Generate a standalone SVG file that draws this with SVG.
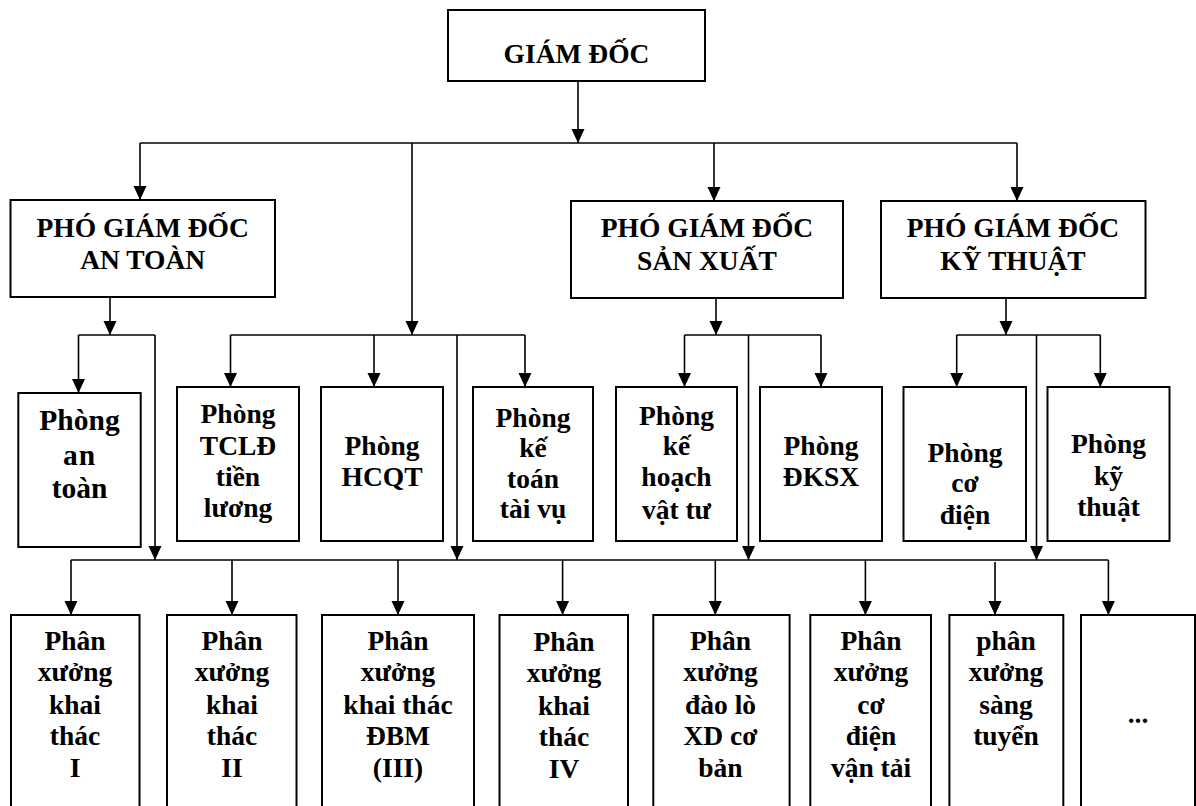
<svg xmlns="http://www.w3.org/2000/svg" width="1196" height="806" viewBox="0 0 1196 806">
<style>
.box{fill:#fff;stroke:#000;stroke-width:2}
.t{font-family:"Liberation Serif","Times New Roman",serif;font-weight:bold;font-size:27.5px;fill:#000;text-anchor:middle}
.big{font-size:29.5px}
.c{fill:none;stroke:#000;stroke-width:1.6}
.a{marker-end:url(#ah)}
</style>
<defs>
<marker id="ah" markerUnits="userSpaceOnUse" markerWidth="14" markerHeight="14" viewBox="0 0 14 13" refX="14" refY="6.5" orient="auto">
<path d="M0,0 L14,6.5 L0,13 Z" fill="#000"/>
</marker>
</defs>
<rect width="1196" height="806" fill="#fff"/>

<g id="connectors">
<line class="c a" x1="578" y1="82" x2="578" y2="143"/>
<polyline class="c" points="140,143 1017,143"/>
<line class="c a" x1="140" y1="143" x2="140" y2="200"/>
<line class="c a" x1="714" y1="143" x2="714" y2="201"/>
<line class="c a" x1="1017" y1="143" x2="1017" y2="201"/>
<line class="c a" x1="412" y1="143" x2="412" y2="335"/>

<line class="c a" x1="110" y1="297" x2="110" y2="335"/>
<polyline class="c" points="78.5,335 155,335"/>
<line class="c a" x1="78.5" y1="335" x2="78.5" y2="393"/>
<line class="c a" x1="155" y1="335" x2="155" y2="560"/>

<polyline class="c" points="230.5,335 525,335"/>
<line class="c a" x1="230.5" y1="335" x2="230.5" y2="387"/>
<line class="c a" x1="374" y1="335" x2="374" y2="387"/>
<line class="c a" x1="525" y1="335" x2="525" y2="387"/>
<line class="c a" x1="457" y1="335" x2="457" y2="560"/>

<line class="c a" x1="716" y1="298" x2="716" y2="335"/>
<polyline class="c" points="684.5,335 821,335"/>
<line class="c a" x1="684.5" y1="335" x2="684.5" y2="387"/>
<line class="c a" x1="821" y1="335" x2="821" y2="387"/>
<line class="c a" x1="748.5" y1="335" x2="748.5" y2="560"/>

<line class="c a" x1="1006" y1="298" x2="1006" y2="335"/>
<polyline class="c" points="956.7,335 1100.3,335"/>
<line class="c a" x1="956.7" y1="335" x2="956.7" y2="387"/>
<line class="c a" x1="1100.3" y1="335" x2="1100.3" y2="387"/>
<line class="c a" x1="1036.5" y1="335" x2="1036.5" y2="560"/>

<polyline class="c" points="71,560 1108.4,560"/>
<line class="c a" x1="71" y1="560" x2="71" y2="615"/>
<line class="c a" x1="232" y1="560" x2="232" y2="615"/>
<line class="c a" x1="398" y1="560" x2="398" y2="615"/>
<line class="c a" x1="562.6" y1="560" x2="562.6" y2="615"/>
<line class="c a" x1="715.3" y1="560" x2="715.3" y2="615"/>
<line class="c a" x1="865.4" y1="560" x2="865.4" y2="615"/>
<line class="c a" x1="995" y1="562" x2="995" y2="615"/>
<line class="c a" x1="1108.4" y1="560" x2="1108.4" y2="615"/>
</g>

<g id="giam-doc">
<rect class="box" x="448" y="10" width="257" height="71"/>
<text class="t" x="576.5" y="62.5">GIÁM ĐỐC</text>
</g>

<g id="pgd-an-toan">
<rect class="box" x="10.5" y="200" width="264.5" height="97"/>
<text class="t" x="142.7" y="237">PHÓ GIÁM ĐỐC</text>
<text class="t" x="142.7" y="269">AN TOÀN</text>
</g>
<g id="pgd-san-xuat">
<rect class="box" x="571" y="201" width="272" height="97"/>
<text class="t" x="707" y="237">PHÓ GIÁM ĐỐC</text>
<text class="t" x="707" y="269.5">SẢN XUẤT</text>
</g>
<g id="pgd-ky-thuat">
<rect class="box" x="881" y="201" width="264.5" height="97"/>
<text class="t" x="1013" y="237">PHÓ GIÁM ĐỐC</text>
<text class="t" x="1013" y="269.5">KỸ THUẬT</text>
</g>

<g id="phong-an-toan">
<rect class="box" x="18.3" y="393" width="122.4" height="154"/>
<text class="t big" x="79.5" y="430">Phòng</text>
<text class="t big" x="79.5" y="464.5" letter-spacing="1">an</text>
<text class="t big" x="79.5" y="498">toàn</text>
</g>
<g id="phong-tcld">
<rect class="box" x="177" y="387" width="122" height="154"/>
<text class="t" x="238" y="423">Phòng</text>
<text class="t" x="238" y="454.5">TCLĐ</text>
<text class="t" x="238" y="486">tiền</text>
<text class="t" x="238" y="517">lương</text>
</g>
<g id="phong-hcqt">
<rect class="box" x="321" y="387" width="122" height="154"/>
<text class="t" x="382" y="455">Phòng</text>
<text class="t" x="382" y="486">HCQT</text>
</g>
<g id="phong-ke-toan">
<rect class="box" x="473" y="387" width="120" height="154"/>
<text class="t" x="533" y="426.5">Phòng</text>
<text class="t" x="533" y="457">kế</text>
<text class="t" x="533" y="487.5">toán</text>
<text class="t" x="533" y="518">tài vụ</text>
</g>
<g id="phong-ke-hoach">
<rect class="box" x="616" y="387" width="121" height="154"/>
<text class="t" x="676.5" y="424.5">Phòng</text>
<text class="t" x="676.5" y="455">kế</text>
<text class="t" x="676.5" y="486">hoạch</text>
<text class="t" x="676.5" y="518.5">vật tư</text>
</g>
<g id="phong-dksx">
<rect class="box" x="760" y="387" width="122" height="154"/>
<text class="t" x="821" y="455">Phòng</text>
<text class="t" x="821" y="486">ĐKSX</text>
</g>
<g id="phong-co-dien">
<rect class="box" x="903.5" y="387" width="122.5" height="154"/>
<text class="t" x="965" y="461.5">Phòng</text>
<text class="t" x="965" y="492">cơ</text>
<text class="t" x="965" y="523.5">điện</text>
</g>
<g id="phong-ky-thuat">
<rect class="box" x="1047.5" y="387" width="122" height="154"/>
<text class="t" x="1108.5" y="453">Phòng</text>
<text class="t" x="1108.5" y="484.5">kỹ</text>
<text class="t" x="1108.5" y="516">thuật</text>
</g>

<g id="px-khai-thac-1">
<rect class="box" x="11" y="615" width="128.5" height="210"/>
<text class="t" x="75" y="650">Phân</text>
<text class="t" x="75" y="681">xưởng</text>
<text class="t" x="75" y="713.5">khai</text>
<text class="t" x="75" y="745">thác</text>
<text class="t" x="75" y="777">I</text>
</g>
<g id="px-khai-thac-2">
<rect class="box" x="167" y="615" width="129.5" height="210"/>
<text class="t" x="232" y="650">Phân</text>
<text class="t" x="232" y="681">xưởng</text>
<text class="t" x="232" y="713.5">khai</text>
<text class="t" x="232" y="745">thác</text>
<text class="t" x="232" y="777">II</text>
</g>
<g id="px-khai-thac-dbm">
<rect class="box" x="322" y="615" width="152" height="210"/>
<text class="t" x="398" y="650">Phân</text>
<text class="t" x="398" y="681">xưởng</text>
<text class="t" x="398" y="713.5">khai thác</text>
<text class="t" x="398" y="745">ĐBM</text>
<text class="t" x="398" y="777">(III)</text>
</g>
<g id="px-khai-thac-4">
<rect class="box" x="499.5" y="615" width="128.5" height="210"/>
<text class="t" x="564" y="651">Phân</text>
<text class="t" x="564" y="682">xưởng</text>
<text class="t" x="564" y="714.5">khai</text>
<text class="t" x="564" y="746">thác</text>
<text class="t" x="564" y="778">IV</text>
</g>
<g id="px-dao-lo">
<rect class="box" x="653.3" y="615" width="136.3" height="210"/>
<text class="t" x="720.5" y="650">Phân</text>
<text class="t" x="720.5" y="681">xưởng</text>
<text class="t" x="720.5" y="713.5">đào lò</text>
<text class="t" x="720.5" y="745">XD cơ</text>
<text class="t" x="720.5" y="777">bản</text>
</g>
<g id="px-co-dien-van-tai">
<rect class="box" x="810.3" y="615" width="120.7" height="210"/>
<text class="t" x="871" y="650">Phân</text>
<text class="t" x="871" y="681">xưởng</text>
<text class="t" x="871" y="713.5">cơ</text>
<text class="t" x="871" y="745">điện</text>
<text class="t" x="871" y="777">vận tải</text>
</g>
<g id="px-sang-tuyen">
<rect class="box" x="949.4" y="615" width="113.9" height="210"/>
<text class="t" x="1006" y="650">phân</text>
<text class="t" x="1006" y="681">xưởng</text>
<text class="t" x="1006" y="713.5">sàng</text>
<text class="t" x="1006" y="745">tuyển</text>
</g>
<g id="px-khac">
<rect class="box" x="1081" y="615" width="114" height="210"/>
<text class="t" x="1138" y="723">...</text>
</g>
</svg>
